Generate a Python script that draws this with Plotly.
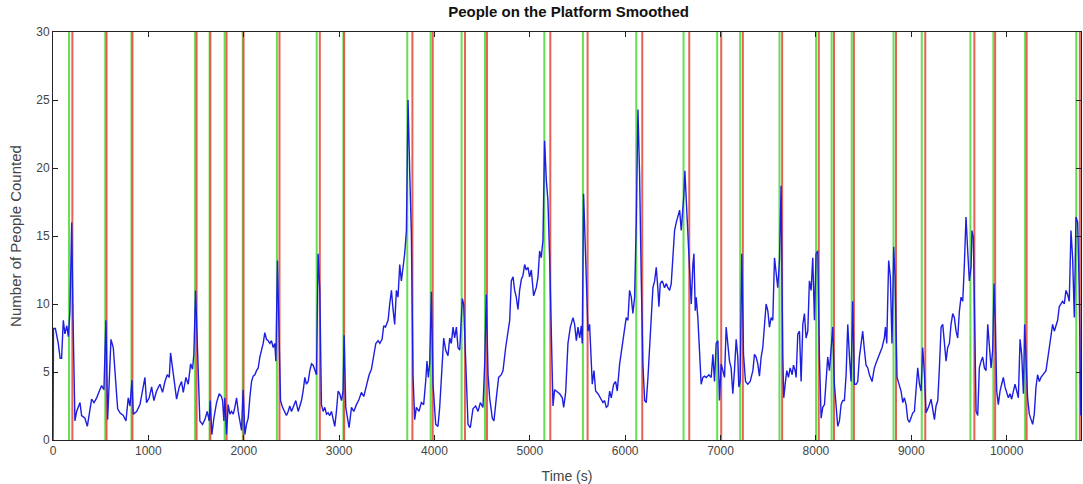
import plotly.graph_objects as go

# Smoothed platform head count (time in seconds, people)
time_s = [
    0, 5, 25, 55, 75, 90, 108, 125, 145, 161, 178, 196, 210, 230, 248, 283, 300, 335, 360, 388,
    405, 430, 458, 486, 510, 534, 555, 573, 590, 608, 632, 653, 678, 702, 737, 765, 789, 807, 828, 842,
    877, 912, 940, 964, 981, 1009, 1034, 1058, 1086, 1121, 1149, 1174, 1198, 1219, 1233, 1254, 1278, 1296, 1324, 1348,
    1366, 1394, 1418, 1443, 1463, 1477, 1495, 1516, 1540, 1568, 1593, 1617, 1638, 1649, 1666, 1687, 1715, 1743, 1767, 1778,
    1792, 1802, 1820, 1837, 1855, 1872, 1890, 1907, 1925, 1942, 1960, 1977, 1994, 2012, 2029, 2047, 2064, 2082, 2099, 2117,
    2134, 2152, 2169, 2187, 2204, 2221, 2239, 2256, 2274, 2291, 2309, 2326, 2337, 2354, 2372, 2386, 2407, 2431, 2448, 2466,
    2483, 2501, 2525, 2546, 2571, 2588, 2606, 2623, 2641, 2658, 2676, 2693, 2711, 2728, 2745, 2763, 2780, 2798, 2815, 2833,
    2850, 2868, 2885, 2902, 2920, 2937, 2955, 2972, 2990, 3007, 3025, 3042, 3053, 3070, 3105, 3130, 3154, 3182, 3210, 3234,
    3259, 3287, 3315, 3339, 3364, 3385, 3409, 3427, 3451, 3468, 3486, 3514, 3531, 3549, 3566, 3583, 3601, 3618, 3636, 3653,
    3671, 3688, 3706, 3723, 3741, 3758, 3775, 3793, 3810, 3838, 3863, 3887, 3908, 3922, 3936, 3950, 3968, 3985, 4013, 4037,
    4055, 4072, 4097, 4118, 4142, 4160, 4177, 4195, 4212, 4230, 4247, 4265, 4292, 4306, 4327, 4352, 4376, 4404, 4432, 4457,
    4481, 4509, 4527, 4544, 4562, 4579, 4607, 4624, 4649, 4673, 4701, 4719, 4747, 4771, 4789, 4806, 4824, 4841, 4858, 4876,
    4893, 4911, 4928, 4946, 4963, 4981, 4998, 5016, 5040, 5068, 5086, 5103, 5120, 5138, 5155, 5173, 5190, 5208, 5225, 5243,
    5260, 5278, 5313, 5341, 5355, 5376, 5400, 5425, 5453, 5470, 5488, 5505, 5523, 5540, 5550, 5564, 5585, 5610, 5627, 5645,
    5655, 5673, 5690, 5715, 5750, 5767, 5784, 5802, 5819, 5837, 5854, 5879, 5900, 5917, 5942, 5970, 5994, 6011, 6029, 6046,
    6064, 6081, 6099, 6116, 6134, 6151, 6169, 6186, 6204, 6221, 6239, 6256, 6274, 6291, 6309, 6326, 6344, 6354, 6368, 6389,
    6413, 6431, 6448, 6466, 6483, 6501, 6518, 6536, 6553, 6571, 6588, 6606, 6616, 6626, 6641, 6658, 6675, 6693, 6710, 6721,
    6735, 6745, 6762, 6780, 6797, 6815, 6832, 6850, 6878, 6902, 6920, 6937, 6954, 6972, 6989, 7007, 7024, 7042, 7059, 7077,
    7094, 7111, 7129, 7146, 7164, 7181, 7192, 7206, 7223, 7241, 7262, 7286, 7311, 7339, 7356, 7373, 7391, 7408, 7426, 7443,
    7461, 7478, 7496, 7513, 7531, 7548, 7566, 7583, 7600, 7618, 7635, 7653, 7663, 7681, 7695, 7712, 7730, 7751, 7765, 7782,
    7793, 7810, 7828, 7845, 7863, 7880, 7897, 7915, 7932, 7950, 7967, 7985, 8002, 8020, 8037, 8055, 8072, 8090, 8107, 8124,
    8142, 8159, 8177, 8194, 8212, 8229, 8247, 8264, 8282, 8299, 8317, 8334, 8352, 8369, 8386, 8404, 8422, 8439, 8456, 8491,
    8509, 8526, 8544, 8561, 8589, 8613, 8638, 8665, 8694, 8718, 8729, 8743, 8763, 8781, 8798, 8816, 8830, 8851, 8876, 8893,
    8911, 8928, 8946, 8963, 8981, 8998, 9016, 9033, 9051, 9068, 9086, 9103, 9120, 9138, 9155, 9180, 9208, 9225, 9243, 9260,
    9278, 9295, 9313, 9330, 9348, 9365, 9382, 9400, 9417, 9435, 9452, 9470, 9487, 9505, 9522, 9540, 9557, 9574, 9592, 9609,
    9627, 9637, 9651, 9662, 9680, 9697, 9714, 9732, 9749, 9767, 9784, 9802, 9819, 9837, 9854, 9868, 9882, 9896, 9913, 9931,
    9948, 9966, 9983, 10001, 10018, 10036, 10053, 10071, 10088, 10106, 10123, 10141, 10158, 10176, 10189, 10203, 10220, 10238, 10255, 10273,
    10290, 10308, 10325, 10343, 10360, 10378, 10413, 10448, 10465, 10482, 10500, 10517, 10535, 10552, 10570, 10587, 10605, 10622, 10640, 10657,
    10675, 10692, 10710, 10727, 10745, 10762, 10778,
]
people = [
    0, 8.2, 8.2, 7.1, 6.0, 6.0, 8.8, 7.8, 8.4, 7.6, 9.5, 16.0, 9.0, 1.4, 2.1, 2.75, 1.8, 1.6, 1.0, 2.1,
    3.0, 2.75, 3.1, 3.6, 4.0, 3.7, 8.8, 1.5, 4.1, 7.4, 6.8, 4.6, 2.3, 2.0, 1.8, 1.4, 3.1, 2.5, 4.4, 1.9,
    2.1, 2.6, 3.7, 4.6, 2.75, 3.1, 3.9, 2.9, 3.6, 4.1, 3.5, 4.3, 4.8, 4.6, 6.4, 5.3, 4.1, 3.0, 3.9, 4.3,
    3.5, 4.6, 4.1, 5.6, 5.2, 6.3, 11.0, 6.6, 1.4, 1.15, 1.5, 2.1, 1.4, 2.9, 0.4, 1.6, 2.75, 3.4, 3.2, 2.9,
    1.4, 3.1, 0.4, 2.6, 1.9, 2.1, 1.9, 2.4, 3.1, 2.1, 1.4, 0.7, 3.7, 0.4, 1.15, 1.6, 3.1, 4.3, 4.7, 4.8,
    5.1, 5.3, 6.1, 6.6, 7.1, 7.9, 7.4, 7.3, 7.1, 7.3, 6.8, 7.1, 5.8, 13.2, 8.5, 2.9, 2.4, 2.1, 1.8, 2.1,
    2.5, 2.1, 2.6, 2.9, 2.1, 2.5, 2.9, 3.6, 4.6, 4.1, 4.3, 5.1, 5.6, 5.5, 5.1, 4.8, 13.7, 11.0, 2.6, 2.1,
    2.4, 1.9, 2.0, 1.8, 2.1, 1.6, 1.0, 2.1, 3.6, 3.4, 2.9, 3.6, 7.7, 2.4, 0.9, 2.4, 2.1, 2.6, 3.0, 3.5,
    3.2, 4.0, 4.8, 5.2, 6.1, 7.1, 7.3, 7.1, 7.4, 8.4, 8.3, 8.8, 10.0, 11.0, 9.6, 8.5, 11.0, 10.5, 12.9, 11.7,
    12.7, 13.7, 15.4, 25.0, 19.6, 15.2, 4.8, 1.5, 2.4, 2.1, 2.75, 2.6, 4.3, 5.8, 4.6, 5.6, 10.9, 4.1, 1.15, 1.0,
    2.4, 4.6, 7.5, 6.6, 6.2, 7.5, 7.1, 8.3, 7.5, 8.3, 6.8, 6.6, 10.4, 10.0, 5.6, 1.15, 0.9, 2.3, 2.5, 2.1,
    2.75, 2.4, 5.6, 10.7, 4.8, 3.1, 1.6, 1.4, 3.1, 4.6, 4.8, 5.1, 6.8, 8.0, 8.8, 11.7, 12.0, 11.0, 10.5, 9.6,
    11.0, 11.8, 12.1, 12.9, 12.5, 12.7, 12.0, 12.5, 10.6, 11.2, 12.0, 13.9, 13.4, 14.7, 22.0, 19.1, 17.6, 13.4, 8.5, 2.5,
    3.7, 3.6, 3.4, 3.1, 2.4, 3.5, 7.1, 8.3, 9.0, 8.5, 7.3, 8.3, 7.5, 8.4, 7.1, 18.1, 13.4, 8.0, 8.5, 5.3,
    4.1, 5.1, 3.6, 3.4, 3.0, 2.75, 2.9, 2.4, 2.5, 3.6, 3.1, 4.1, 4.3, 3.6, 5.6, 7.1, 8.5, 9.0, 8.8, 11.0,
    10.5, 9.3, 10.5, 15.9, 24.3, 19.6, 11.7, 5.6, 2.9, 2.75, 4.6, 7.1, 9.0, 11.2, 11.7, 12.7, 11.0, 9.8, 11.5, 11.7,
    11.2, 11.5, 11.2, 11.0, 11.5, 13.2, 15.4, 16.0, 16.4, 16.9, 15.4, 16.9, 18.1, 19.8, 17.4, 15.4, 12.0, 10.0, 12.9, 13.7,
    9.5, 10.5, 9.0, 6.1, 4.1, 4.6, 4.7, 4.6, 4.8, 4.6, 6.3, 4.3, 7.1, 7.3, 2.9, 5.6, 5.1, 4.6, 8.3, 6.8,
    5.8, 5.3, 3.4, 5.1, 7.4, 6.1, 3.9, 4.3, 13.7, 6.3, 4.3, 4.1, 4.3, 5.1, 6.3, 6.1, 5.6, 4.7, 6.1, 6.8,
    8.5, 10.0, 9.5, 8.3, 9.0, 8.8, 13.4, 12.2, 11.2, 13.2, 18.7, 6.1, 3.1, 4.3, 5.1, 4.6, 5.3, 4.8, 5.5, 5.1,
    4.6, 7.8, 8.0, 4.3, 8.5, 9.3, 7.5, 8.0, 11.7, 11.0, 13.4, 8.8, 13.7, 13.9, 6.1, 1.6, 2.4, 2.6, 4.3, 6.1,
    5.1, 7.1, 8.3, 4.1, 2.1, 1.0, 1.4, 2.6, 2.9, 2.9, 4.8, 8.5, 6.1, 4.3, 10.2, 4.1, 4.1, 4.3, 6.1, 8.0,
    6.6, 5.5, 5.3, 4.8, 4.3, 5.3, 5.8, 6.3, 6.8, 7.5, 8.3, 7.1, 13.2, 12.0, 7.1, 14.2, 12.0, 4.6, 3.9, 3.6,
    2.75, 3.1, 2.6, 1.5, 1.3, 1.6, 2.0, 2.1, 3.6, 5.3, 4.1, 3.6, 6.8, 4.8, 2.0, 2.4, 3.0, 2.1, 1.5, 2.5,
    2.9, 5.3, 8.3, 8.5, 7.1, 5.8, 6.8, 7.1, 8.5, 9.3, 9.0, 8.0, 7.5, 9.5, 10.5, 10.2, 12.9, 16.4, 13.9, 11.7,
    12.7, 15.4, 14.9, 8.5, 2.1, 1.8, 5.3, 5.8, 6.1, 5.3, 5.1, 8.5, 7.1, 5.3, 6.6, 11.5, 8.5, 3.6, 2.6, 3.6,
    4.1, 4.6, 3.9, 3.4, 3.1, 3.4, 3.0, 3.6, 4.1, 3.6, 3.1, 7.4, 6.3, 3.4, 8.5, 6.1, 3.1, 1.9, 1.5, 1.15,
    1.9, 3.9, 4.8, 4.3, 4.6, 4.8, 5.1, 6.8, 7.5, 8.5, 8.0, 8.5, 8.8, 9.8, 10.0, 10.2, 10.0, 11.0, 10.7, 10.2,
    15.4, 13.4, 9.0, 16.4, 16.0, 11.0, 1.8,
]

# Train arrival (green) and departure (red) times, seconds
arrivals = [168, 548, 823, 1490, 1642, 1800, 1990, 2348, 2765, 3045,
            3715, 3960, 4285, 4530, 5152, 5557, 6116, 6612, 6965, 7206,
            7618, 8002, 8165, 8376, 8814, 9110, 9620, 9861, 10194, 10730]
departures = [203, 562, 833, 1506, 1650, 1820, 1998, 2375, 2798, 3053,
              3769, 3982, 4320, 4551, 5215, 5606, 6179, 6672, 7007, 7234,
              7646, 8030, 8190, 8399, 8840, 9147, 9662, 9880, 10210, 10768]

x_ticks = list(range(0, 10001, 1000))
y_ticks = list(range(0, 31, 5))
Y_MIN, Y_MAX = 0, 30
X_MAX = 10780


def vlines(times):
    xs, ys = [], []
    for t in times:
        xs += [t, t, None]
        ys += [Y_MIN, Y_MAX, None]
    return xs, ys


fig = go.Figure()

gx, gy = vlines(arrivals)
fig.add_trace(go.Scatter(x=gx, y=gy, mode="lines",
                         line=dict(color="rgb(100,225,80)", width=2),
                         hoverinfo="skip", showlegend=False))
rx, ry = vlines(departures)
fig.add_trace(go.Scatter(x=rx, y=ry, mode="lines",
                         line=dict(color="rgba(225,70,55,0.85)", width=2),
                         hoverinfo="skip", showlegend=False))
fig.add_trace(go.Scatter(x=time_s, y=people, mode="lines",
                         line=dict(color="rgb(30,30,225)", width=1.4),
                         showlegend=False))

font_family = "Liberation Sans, Arial, Helvetica, sans-serif"
axis_common = dict(
    showline=True, linecolor="#222", linewidth=1, mirror="ticks",
    ticks="inside", ticklen=5, tickcolor="#222", tickwidth=1,
    showgrid=False, zeroline=False,
    tickfont=dict(family=font_family, size=12, color="#444"),
)

fig.update_layout(
    width=1083, height=484,
    margin=dict(l=53, r=2, t=32, b=44),
    paper_bgcolor="white", plot_bgcolor="white",
    title=dict(text="<b>People on the Platform Smoothed</b>",
               x=0.525, xanchor="center", y=1 - 12 / 484, yanchor="middle",
               font=dict(family=font_family, size=15, color="#111")),
    xaxis=dict(range=[0, X_MAX], tickvals=x_ticks,
               ticktext=[str(v) for v in x_ticks],
               title=dict(text="Time (s)", standoff=13,
                          font=dict(family=font_family, size=14, color="#444")),
               **axis_common),
    yaxis=dict(range=[Y_MIN, Y_MAX], tickvals=y_ticks,
               ticktext=[str(v) for v in y_ticks],
               title=dict(text="Number of People Counted", standoff=10,
                          font=dict(family=font_family, size=15, color="#444")),
               **axis_common),
)

fig.write_html("out.html")
